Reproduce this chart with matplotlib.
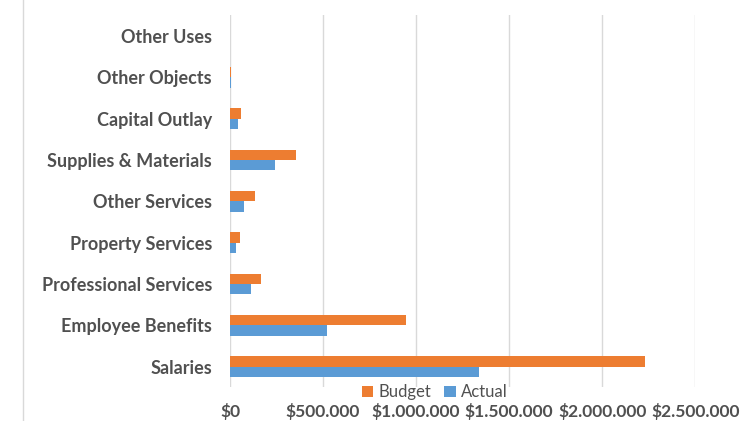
import matplotlib
import matplotlib.pyplot as plt
from matplotlib.lines import Line2D
import numpy as np

matplotlib.use('Agg')
plt.rcParams['font.family'] = ['Lato', 'DejaVu Sans']

# Data (bottom to top)
categories = ["Salaries", "Employee Benefits", "Professional Services",
              "Property Services", "Other Services", "Supplies & Materials",
              "Capital Outlay", "Other Objects", "Other Uses"]
budget = [2228000, 944000, 167000, 52000, 137000, 356000, 59000, 7000, 0]
actual = [1338000, 523000, 111000, 31000, 77000, 244000, 43000, 5000, 0]
xticks = [0, 500000, 1000000, 1500000, 2000000, 2500000]
xtick_labels = ["$0", "$500.000", "$1.000.000", "$1.500.000", "$2.000.000", "$2.500.000"]

ORANGE = "#ED7D31"
BLUE = "#5B9BD5"
TEXT = "#505050"

fig = plt.figure(figsize=(7.54, 4.21), dpi=100)
ax = fig.add_axes([0.305, 0.08, 0.617, 0.884])

y = np.arange(len(categories))
h = 0.25
ax.barh(y + h / 2, budget, height=h, color=ORANGE, label="Budget", zorder=3)
ax.barh(y - h / 2, actual, height=h, color=BLUE, label="Actual", zorder=3)

ax.set_ylim(-0.5, len(categories) - 0.5)
ax.set_xlim(0, 2500000)
ax.set_yticks(y)
ax.set_yticklabels(categories, fontsize=13, fontweight='bold', color=TEXT)
ax.set_xticks(xticks)
ax.set_xticklabels(xtick_labels, fontsize=12.5, fontweight='bold', color=TEXT)
ax.tick_params(axis='both', length=0)
ax.tick_params(axis='y', pad=13)
ax.tick_params(axis='x', pad=11)

ax.grid(axis='x', color="#D9D9D9", linewidth=1, zorder=0)
for s in ax.spines.values():
    s.set_visible(False)

leg = ax.legend(handles=[ax.containers[0], ax.containers[1]],
                loc='upper center', bbox_to_anchor=(0.44, 0.03), ncol=2,
                frameon=False, fontsize=12, handlelength=0.7, handleheight=0.7,
                columnspacing=0.8, handletextpad=0.3, borderpad=0)
for t in leg.get_texts():
    t.set_color(TEXT)

# light frame line on the left edge of the chart area
fig.add_artist(Line2D([23 / 754, 23 / 754], [0, 1], color="#D9D9D9", linewidth=1))

fig.savefig("out.png", dpi=100, facecolor="white")
